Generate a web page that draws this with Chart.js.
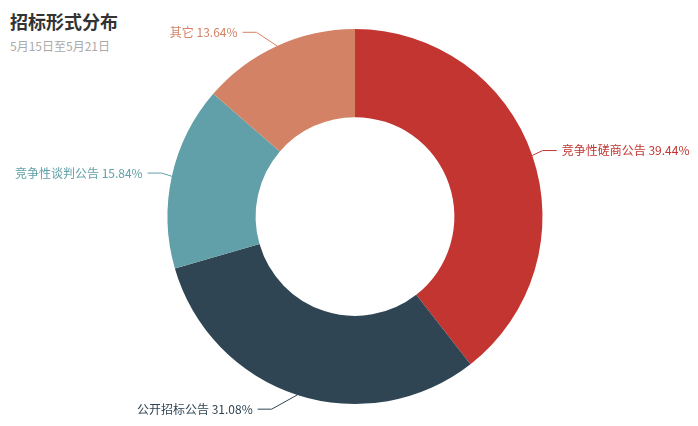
<!DOCTYPE html>
<html>
<head>
<meta charset="utf-8">
<script src="https://cdn.jsdelivr.net/npm/chart.js@4"></script>
<style>
  html, body { margin: 0; padding: 0; background: #fff; }
  body { width: 698px; height: 426px; position: relative; overflow: hidden;
         font-family: "Noto Sans CJK SC", "Noto Sans", sans-serif; }
  #title { position: absolute; left: 10px; top: 8px; font-size: 18px; font-weight: bold; color: #333; }
  #subtitle { position: absolute; left: 10px; top: 37px; font-size: 12px; color: #aaa; }
  canvas { position: absolute; left: 0; top: 0; }
</style>
</head>
<body>
<div id="title">招标形式分布</div>
<div id="subtitle">5月15日至5月21日</div>
<canvas id="chart" width="698" height="426"></canvas>
<script>
const labels = ['竞争性磋商公告', '公开招标公告', '竞争性谈判公告', '其它'];
const percents = [39.44, 31.08, 15.84, 13.64];
const colors = ['#c23531', '#2f4554', '#61a0a8', '#d48265'];

// label lines like the echarts pie: first piece out from the ring, then a flat piece
const labelLines = {
  id: 'labelLines',
  afterDatasetsDraw(chart) {
    const ctx = chart.ctx;
    const meta = chart.getDatasetMeta(0);
    const len1 = 15, len2 = 14, gap = 5;
    ctx.save();
    ctx.font = '12px "Noto Sans CJK SC", "Noto Sans", sans-serif';
    ctx.textBaseline = 'middle';
    ctx.lineWidth = 1;
    meta.data.forEach((arc, i) => {
      const p = arc.getProps(['x', 'y', 'startAngle', 'endAngle', 'outerRadius']);
      const mid = (p.startAngle + p.endAngle) / 2;
      const r = p.outerRadius;
      const sx = p.x + Math.cos(mid) * r;
      const sy = p.y + Math.sin(mid) * r;
      // x is put back on an ellipse, the way echarts lays out pie labels
      const rA = r + 10, rB = r + 25;
      const dy = Math.sin(mid) * (r + len1);
      const dir = Math.cos(mid) >= 0 ? 1 : -1;
      const ex = p.x + dir * rA * Math.sqrt(Math.max(0, 1 - (dy / rB) * (dy / rB)));
      const ey = p.y + dy;
      const tx = ex + dir * len2;
      ctx.strokeStyle = colors[i];
      ctx.beginPath();
      ctx.moveTo(sx, sy);
      ctx.lineTo(ex, ey);
      ctx.lineTo(tx, ey);
      ctx.stroke();
      ctx.fillStyle = colors[i];
      ctx.textAlign = dir > 0 ? 'left' : 'right';
      ctx.fillText(labels[i] + ' ' + percents[i].toFixed(2) + '%', tx + dir * gap, ey);
    });
    ctx.restore();
  }
};

new Chart(document.getElementById('chart'), {
  type: 'doughnut',
  data: {
    labels: labels,
    datasets: [{
      data: percents,
      backgroundColor: colors,
      borderWidth: 0,
      hoverOffset: 0
    }]
  },
  options: {
    responsive: false,
    animation: false,
    cutout: '53%',
    layout: { padding: { top: 29, bottom: 22, left: 12, right: 0 } },
    plugins: {
      legend: { display: false },
      tooltip: { enabled: false }
    }
  },
  plugins: [labelLines]
});
</script>
</body>
</html>
